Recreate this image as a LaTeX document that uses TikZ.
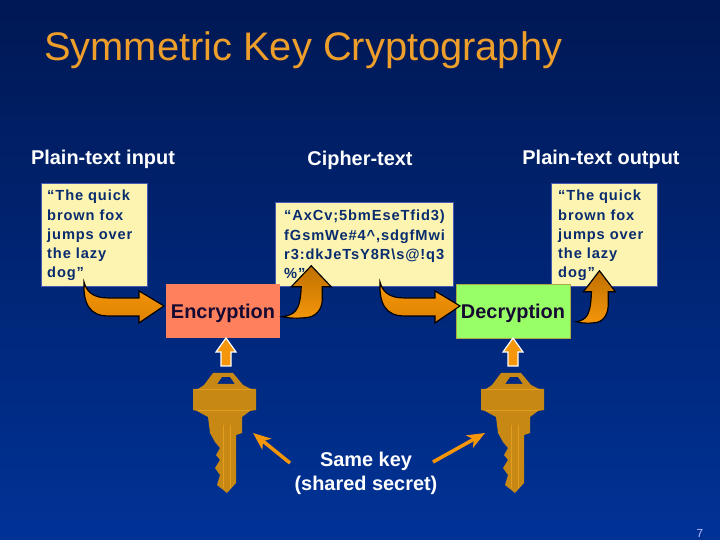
\documentclass[tikz,border=0pt]{standalone}
\usepackage{fontspec}
\setmainfont{Liberation Sans}
\newfontfamily\spacedfont[LetterSpace=6]{Liberation Sans}
\usetikzlibrary{arrows.meta, positioning, calc}
\definecolor{topnavy}{RGB}{0,24,84}
\definecolor{lownavy}{RGB}{0,50,150}
\definecolor{titleorange}{RGB}{238,158,42}
\definecolor{notecream}{RGB}{253,244,178}
\definecolor{noteedge}{RGB}{70,90,180}
\definecolor{notetext}{RGB}{8,44,110}
\definecolor{encsalmon}{RGB}{255,128,92}
\definecolor{decgreen}{RGB}{153,255,102}
\definecolor{decedge}{RGB}{170,170,70}
\definecolor{stageink}{RGB}{22,10,50}
\definecolor{keygold}{RGB}{200,136,20}
\definecolor{keylight}{RGB}{226,156,30}
\definecolor{arrowdark}{RGB}{190,112,0}
\definecolor{arrowmid}{RGB}{222,130,0}
\definecolor{arrowlight}{RGB}{245,150,10}
\tikzset{
  notebox/.style={draw=noteedge,thick,fill=notecream,anchor=north west,inner sep=0pt},
  notetxt/.style={anchor=north west,text=notetext,inner sep=0pt,align=left,
    font=\spacedfont\bfseries\fontsize{12.5}{16.4}\selectfont},
  stagebox/.style={minimum width=3.42cm,minimum height=1.62cm,inner sep=0pt,text height=15.6pt,text depth=3.6pt,
    font=\bfseries\fontsize{17}{20}\selectfont,text=stageink},
  headlabel/.style={text=white,font=\bfseries\fontsize{17}{20}\selectfont,inner sep=0pt},
  whitearrow/.style={draw=white,line width=1pt,fill=arrowlight},
  thinarrow/.style={draw=arrowlight,line width=3pt,-{Stealth[length=15pt,width=12pt,inset=4pt]}},
  pics/sweeparrow/.style={code={
    \draw[draw=black,line width=1pt,top color=arrowlight,bottom color=arrowmid] (0,0) .. controls (-1,22) and (6,34) .. (24,34) -- (55,34) -- (55,41)
      -- (80,24) -- (55,9) -- (55,16) -- (24,16) .. controls (12,16) and (3,12) .. cycle;
  }},
  pics/risearrow/.style={code={
    \draw[draw=black,line width=1pt,top color=arrowdark,bottom color=arrowlight] (0,0) .. controls (12,-2) and (18,-5) .. (19,-30) -- (9,-30) -- (29,-51)
      -- (49,-30) -- (40,-30) -- (40,-17) .. controls (40,-8) and (34,1) .. (22,1) .. controls (12,2) and (5,1) .. cycle;
  }},
  pics/keyshape/.style={code={
    \fill[keygold,even odd rule] (-18,-23) -- (-9,-35) -- (11,-35) -- (21,-23) -- (29,-19) -- (34,-19) -- (34,2) -- (28,3)
      -- (20,9) -- (20,25) -- (14,27) -- (14,75) -- (5,85) -- (-5,77) -- (-2,67) -- (-7,60) -- (-2,52) -- (-6,47)
      -- (-2,40) -- (-7,34) -- (-12,25) -- (-14,9) -- (-25,3) -- (-29,2) -- (-29,-19) -- (-24,-19) -- cycle
      (-5,-24) -- (0,-31) -- (8,-31) -- (13,-24) -- cycle;
    \draw[keylight,line width=0.8pt] (1,17) -- (1,80) (8,17) -- (8,80) (-26,-19) -- (31,-19) (-24,2) -- (28,2);
  }}
}
\begin{document}
\begin{tikzpicture}[x=0.03cm,y=-0.03cm]
\useasboundingbox (0,0) rectangle (720,540);
\shade[top color=topnavy,bottom color=lownavy] (0,0) rectangle (720,540);

% Heading and column labels
\node[anchor=west,inner sep=0pt,text=titleorange,font=\fontsize{34}{40}\selectfont] (title) at (44,50) {Symmetric Key Cryptography};
\node[headlabel] (inlabel) at (103,159) {Plain-text input};
\node[headlabel] (cipherlabel) at (360,160) {Cipher-text};
\node[headlabel] (outlabel) at (601,159) {Plain-text output};

% Text boxes
\node[notebox,minimum width=3.18cm,minimum height=3.09cm] (plainin) at (41,183) {};
\node[notetxt] (plainintext) at (47,190) {“The quick\\brown fox\\jumps over\\the lazy\\dog”};
\node[notebox,minimum width=5.34cm,minimum height=2.52cm] (cipher) at (275,202) {};
\node[notetxt] (ciphertext) at (284,210) {“AxCv;5bmEseTfid3)\\fGsmWe\#4\textasciicircum,sdgfMwi\\r3:dkJeTsY8R\textbackslash s@!q3\\\%”};
\node[notebox,minimum width=3.18cm,minimum height=3.09cm] (plainout) at (551,183) {};
\node[notetxt] (plainouttext) at (558,190) {“The quick\\brown fox\\jumps over\\the lazy\\dog”};

% Stages
\node[stagebox,fill=encsalmon] (encrypt) at (223,311) {Encryption};
\node[stagebox,fill=decgreen,draw=decedge] (decrypt) at (513,311) {Decryption};

% Block arrows
\pic at ($(plainin.south west)+(43,-5)$) {sweeparrow};
\pic at ($(cipher.south west)+(105,-5)$) {sweeparrow};
\pic at ($(encrypt.north east)+(2,33)$) {risearrow};
\pic[xscale=0.8] at ($(decrypt.north east)+(6,38)$) {risearrow};

% Keys
\pic at (222,408) {keyshape};
\pic at (510,408) {keyshape};
\draw[whitearrow] (226,338) -- (236,352) -- (231,352) -- (231,366) -- (221,366) -- (221,352) -- (216,352) -- cycle;
\draw[whitearrow] (513,338) -- (523,352) -- (518,352) -- (518,366) -- (508,366) -- (508,352) -- (503,352) -- cycle;

% Shared key note
\node[text=white,align=center,inner sep=0pt,font=\bfseries\fontsize{17}{20.4}\selectfont] (samekey) at (366,473) {Same key\\(shared secret)};
\coordinate (keyleft) at (253,433);
\coordinate (keyright) at (485,433);
\coordinate (noteleft) at (290,463);
\coordinate (noteright) at (433,462);
\draw[thinarrow] (noteleft) -- (keyleft);
\draw[thinarrow] (noteright) -- (keyright);

\node[text=white!75!blue,inner sep=0pt,font=\fontsize{10}{12}\selectfont] (pageno) at (700,533) {7};
\end{tikzpicture}
\end{document}
